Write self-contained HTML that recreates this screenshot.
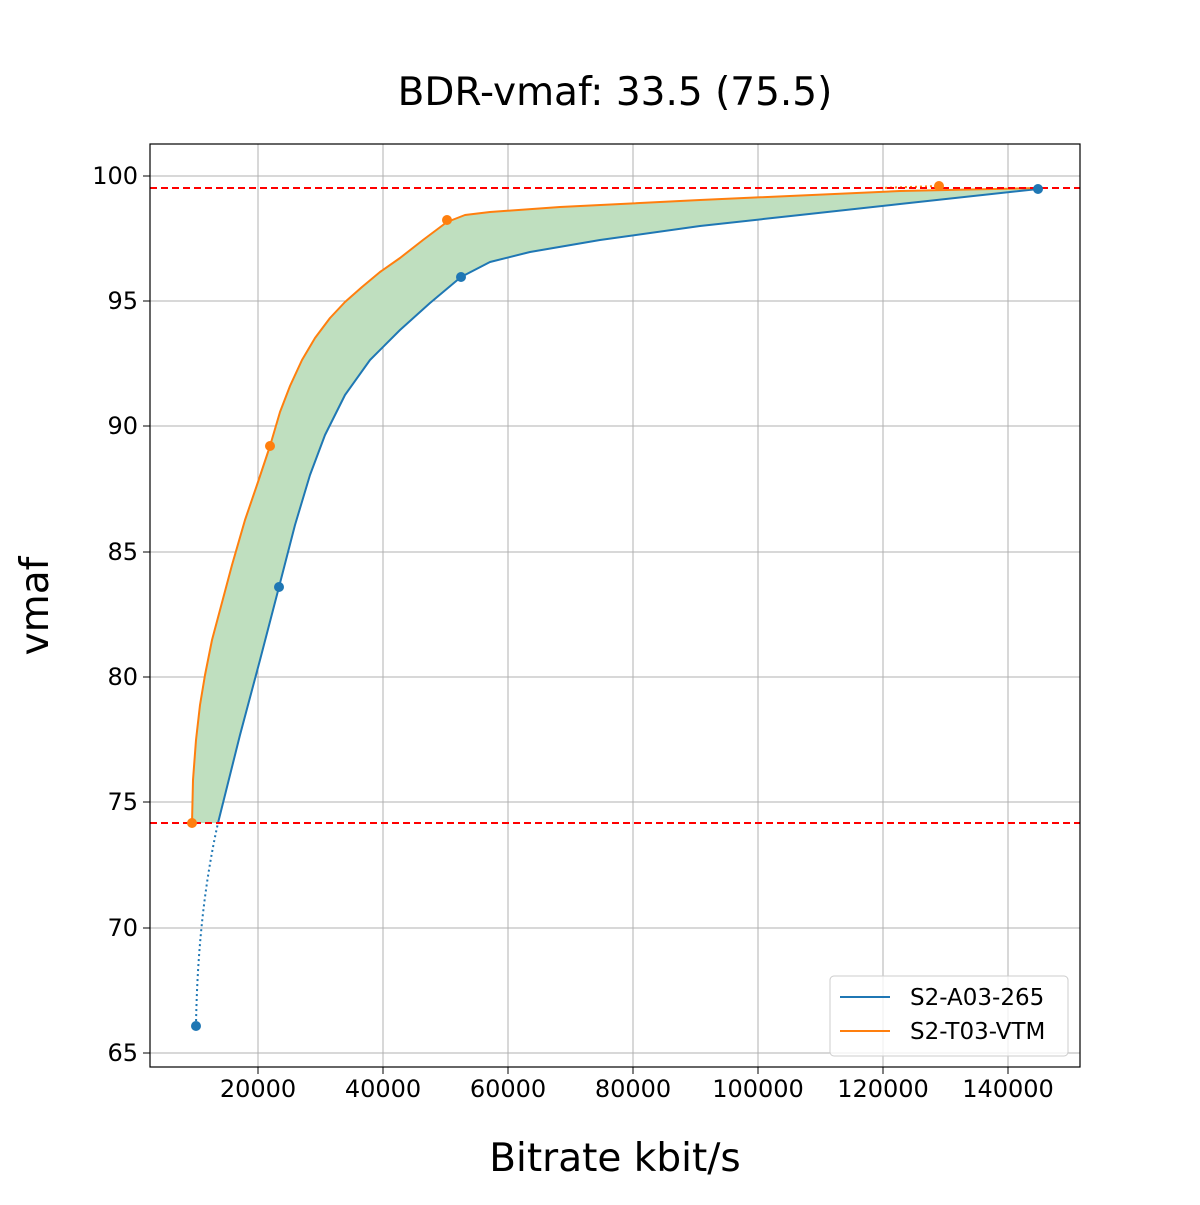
<!DOCTYPE html>
<html><head><style>body{margin:0;background:#fff}</style></head><body>
<svg width="1200" height="1200" xmlns="http://www.w3.org/2000/svg" font-family="'DejaVu Sans','Liberation Sans',sans-serif">
<rect width="1200" height="1200" fill="#fff"/>
<g stroke="#b0b0b0" stroke-width="1">
<line x1="258" y1="144" x2="258" y2="1067"/><line x1="383" y1="144" x2="383" y2="1067"/><line x1="508" y1="144" x2="508" y2="1067"/><line x1="633" y1="144" x2="633" y2="1067"/><line x1="758" y1="144" x2="758" y2="1067"/><line x1="883" y1="144" x2="883" y2="1067"/><line x1="1008" y1="144" x2="1008" y2="1067"/>
<line x1="150" y1="176" x2="1080" y2="176"/><line x1="150" y1="301" x2="1080" y2="301"/><line x1="150" y1="426" x2="1080" y2="426"/><line x1="150" y1="552" x2="1080" y2="552"/><line x1="150" y1="677" x2="1080" y2="677"/><line x1="150" y1="802" x2="1080" y2="802"/><line x1="150" y1="928" x2="1080" y2="928"/><line x1="150" y1="1053" x2="1080" y2="1053"/>
</g>
<polygon points="192,823 193,780 196,740 200,705 205,675 212,640 220,610 232,565 245,520 258,482 270,446 280,412 290,386 302,360 315,338 330,318 345,302 362,287 380,272 400,258 423,240 447,222 465,215 490,212 560,207 700,200 900,191 1038,188 1038,189 900,204 800,215 700,226 600,240 530,252 490,262 461,277 430,303 400,330 370,360 345,395 325,435 310,475 295,525 279,587 260,660 240,735 218,823" fill="#bfdfbf"/>
<path d="M196,1026 C197,960 203,890 218,823" fill="none" stroke="#1f77b4" stroke-width="2" stroke-dasharray="2,3"/>
<polyline points="218,823 240,735 260,660 279,587 295,525 310,475 325,435 345,395 370,360 400,330 430,303 461,277 490,262 530,252 600,240 700,226 800,215 900,204 1038,189" fill="none" stroke="#1f77b4" stroke-width="2" stroke-linejoin="round"/>
<path d="M880,188 L939,186" fill="none" stroke="#ff7f0e" stroke-width="2" stroke-dasharray="2,3"/>
<polyline points="192,823 193,780 196,740 200,705 205,675 212,640 220,610 232,565 245,520 258,482 270,446 280,412 290,386 302,360 315,338 330,318 345,302 362,287 380,272 400,258 423,240 447,222 465,215 490,212 560,207 700,200 900,191 1038,188" fill="none" stroke="#ff7f0e" stroke-width="2" stroke-linejoin="round"/>
<line x1="150" y1="188" x2="1080" y2="188" stroke="#ff0000" stroke-width="2" stroke-dasharray="7,4"/>
<line x1="150" y1="823" x2="1080" y2="823" stroke="#ff0000" stroke-width="2" stroke-dasharray="7,4"/>
<g fill="#1f77b4"><circle cx="196" cy="1026" r="5"/><circle cx="279" cy="587" r="5"/><circle cx="461" cy="277" r="5"/><circle cx="1038" cy="189" r="5"/></g>
<g fill="#ff7f0e"><circle cx="192" cy="823" r="5"/><circle cx="270" cy="446" r="5"/><circle cx="447" cy="220" r="5"/><circle cx="939" cy="186" r="5"/></g>
<rect x="150" y="144" width="930" height="923" fill="none" stroke="#000" stroke-width="1.2"/>
<g stroke="#000"><line x1="258" y1="1067" x2="258" y2="1074"/><line x1="383" y1="1067" x2="383" y2="1074"/><line x1="508" y1="1067" x2="508" y2="1074"/><line x1="633" y1="1067" x2="633" y2="1074"/><line x1="758" y1="1067" x2="758" y2="1074"/><line x1="883" y1="1067" x2="883" y2="1074"/><line x1="1008" y1="1067" x2="1008" y2="1074"/>
<line x1="143" y1="176" x2="150" y2="176"/><line x1="143" y1="301" x2="150" y2="301"/><line x1="143" y1="426" x2="150" y2="426"/><line x1="143" y1="552" x2="150" y2="552"/><line x1="143" y1="677" x2="150" y2="677"/><line x1="143" y1="802" x2="150" y2="802"/><line x1="143" y1="928" x2="150" y2="928"/><line x1="143" y1="1053" x2="150" y2="1053"/></g>
<g font-size="24" text-anchor="middle" fill="#000"><text x="258" y="1097">20000</text><text x="383" y="1097">40000</text><text x="508" y="1097">60000</text><text x="633" y="1097">80000</text><text x="758" y="1097">100000</text><text x="883" y="1097">120000</text><text x="1008" y="1097">140000</text></g>
<g font-size="24" text-anchor="end" fill="#000"><text x="138" y="184">100</text><text x="138" y="309">95</text><text x="138" y="434">90</text><text x="138" y="560">85</text><text x="138" y="685">80</text><text x="138" y="810">75</text><text x="138" y="936">70</text><text x="138" y="1061">65</text></g>
<text x="615" y="105" font-size="39" text-anchor="middle">BDR-vmaf: 33.5 (75.5)</text>
<text x="615" y="1171" font-size="39" text-anchor="middle">Bitrate kbit/s</text>
<text transform="translate(48,606) rotate(-90)" font-size="39" text-anchor="middle">vmaf</text>
<rect x="830" y="976" width="238" height="80" rx="4" fill="#fff" fill-opacity="0.8" stroke="#ccc"/>
<line x1="840" y1="997" x2="890" y2="997" stroke="#1f77b4" stroke-width="2"/>
<line x1="840" y1="1031" x2="890" y2="1031" stroke="#ff7f0e" stroke-width="2"/>
<text x="910" y="1005" font-size="23">S2-A03-265</text>
<text x="910" y="1039" font-size="23">S2-T03-VTM</text>
</svg>
</body></html>
